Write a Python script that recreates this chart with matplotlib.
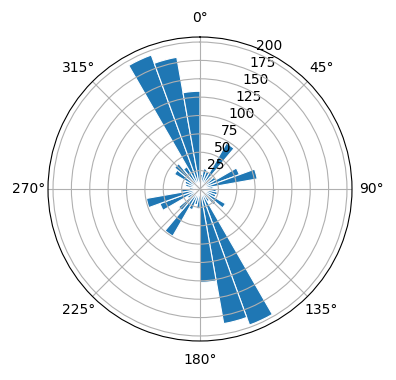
import numpy as np
import matplotlib.pyplot as plt

# 36 direction bins, 10 degrees each (left edges in degrees)
bin_edges_deg = list(range(0, 360, 10))
counts = [20, 28, 25, 72, 22, 25, 57, 79, 18,
          22, 24, 23, 40, 28, 20, 197, 186, 127,
          27, 22, 30, 74, 38, 20, 58, 74, 25,
          15, 20, 22, 40, 45, 35, 194, 182, 133]

fig = plt.figure(figsize=(3.96, 3.8), dpi=100)
# polar disc centred near (200, 189) px with a radius of about 152 px
ax = fig.add_axes([48 / 396, 39 / 380, 304 / 396, 304 / 380], projection="polar")
ax.set_theta_zero_location("N")
ax.set_theta_direction(-1)

theta = np.deg2rad(bin_edges_deg)
ax.bar(theta, counts, width=np.deg2rad(10), align="edge",
       color="#1f77b4", edgecolor="white", linewidth=0.8)

ax.set_rticks([25, 50, 75, 100, 125, 150, 175, 200])

fig.savefig("out.png", dpi=100)
